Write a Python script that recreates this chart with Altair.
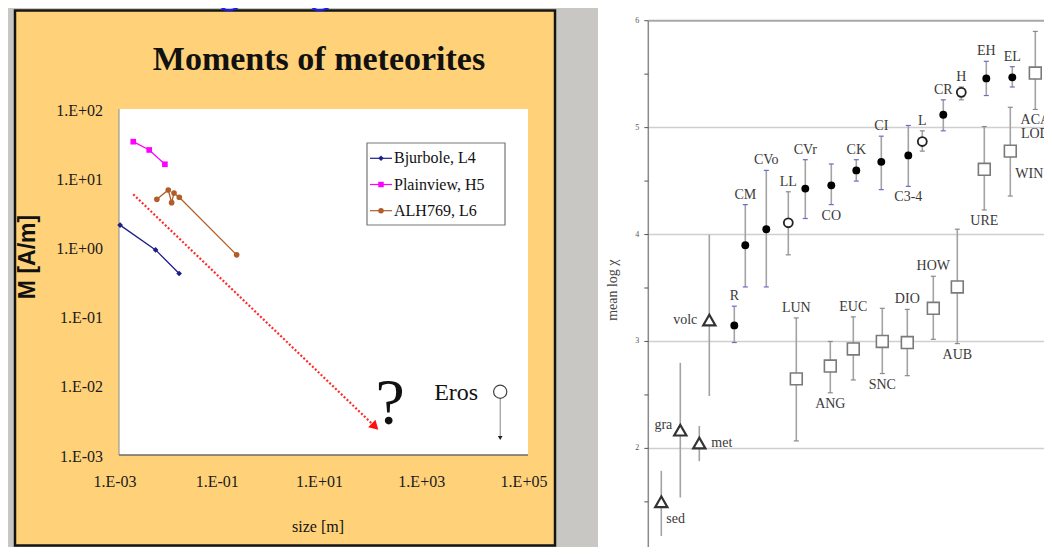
import altair as alt
import pandas as pd

# ------------------------------------------------------------------
# Left panel: "Moments of meteorites"  (M [A/m] versus size [m])
# ------------------------------------------------------------------
series_names = ["Bjurbole, L4", "Plainview, H5", "ALH769, L6"]
series_colors = ["#1e1e8c", "#ff00ff", "#b25c28"]
series_shapes = ["diamond", "square", "circle"]

bjurbole_size = [0.00105, 0.0052, 0.015]
bjurbole_moment = [2.1, 0.92, 0.42]
plainview_size = [0.0019, 0.0039, 0.0079]
plainview_moment = [33.7, 25.6, 15.9]
alh769_size = [0.0055, 0.0092, 0.0107, 0.0119, 0.0151, 0.20]
alh769_moment = [4.95, 6.75, 4.43, 6.1, 5.3, 0.78]

trend_size = [0.0019, 102.0]
trend_moment = [5.85, 0.00257]

eros_size = [28600.0]
eros_moment = [0.0082]
eros_limit = [0.00176]

left_x_ticks = [0.001, 0.1, 10.0, 1000.0, 100000.0]
left_x_labels = ["1.E-03", "1.E-01", "1.E+01", "1.E+03", "1.E+05"]
left_y_ticks = [100.0, 10.0, 1.0, 0.1, 0.01, 0.001]
left_y_labels = ["1.E+02", "1.E+01", "1.E+00", "1.E-01", "1.E-02", "1.E-03"]

# ------------------------------------------------------------------
# Right panel: mean log chi of meteorite groups and terrestrial rocks
# ------------------------------------------------------------------
right_groups = ["sed", "gra", "met", "volc", "R", "CM", "CVo", "LL", "LUN", "CVr",
                "ANG", "CO", "EUC", "CK", "CI", "SNC", "DIO", "C3-4", "L", "HOW",
                "CR", "AUB", "H", "URE", "EH", "WIN", "EL", "ACA\nLOD"]
right_x = [1.3, 3.2, 5.1, 6.1, 8.6, 9.7, 11.8, 14.0, 14.8, 15.7,
           18.2, 18.3, 20.5, 20.8, 23.3, 23.4, 25.9, 26.0, 27.4, 28.5,
           29.5, 30.9, 31.3, 33.6, 33.8, 36.2, 36.4, 38.7]
right_mean = [1.50, 2.17, 2.05, 3.20, 3.15, 3.90, 4.05, 4.11, 2.65, 4.43,
              2.77, 4.46, 2.93, 4.60, 4.68, 3.00, 2.99, 4.74, 4.87, 3.31,
              5.12, 3.51, 5.33, 4.61, 5.46, 4.78, 5.47, 5.51]
right_low = [1.18, 1.54, 1.88, 2.49, 2.99, 3.51, 3.51, 3.81, 2.07, 4.15,
             2.52, 4.28, 2.64, 4.50, 4.42, 2.70, 2.68, 4.45, 4.78, 3.02,
             4.97, 2.98, 5.26, 4.23, 5.30, 4.36, 5.38, 5.17]
right_high = [1.79, 2.80, 2.21, 4.00, 3.33, 4.28, 4.60, 4.40, 3.22, 4.70,
              3.00, 4.66, 3.23, 4.70, 4.92, 3.31, 3.30, 5.02, 4.97, 3.61,
              5.26, 4.05, 5.38, 5.01, 5.62, 5.19, 5.57, 5.90]
right_kind = ["terrestrial", "terrestrial", "terrestrial", "terrestrial",
              "chondrite", "chondrite", "chondrite", "ordinary", "achondrite", "chondrite",
              "achondrite", "chondrite", "achondrite", "chondrite", "chondrite",
              "achondrite", "achondrite", "chondrite", "ordinary", "achondrite",
              "chondrite", "achondrite", "ordinary", "achondrite", "chondrite",
              "achondrite", "chondrite", "achondrite"]
right_label_side = ["rb", "lt", "r", "l", "t", "t", "t", "t", "t", "t",
                    "b", "b", "t", "t", "t", "b", "t", "b", "t", "t",
                    "t", "b", "t", "b", "t", "rb", "t", "b"]
right_y_ticks = [1, 1.5, 2, 2.5, 3, 3.5, 4, 4.5, 5, 5.5, 6]
right_y_label_values = [1, 2, 3, 4, 5, 6]
right_y_labels = ["1", "2", "3", "4", "5", "6"]
right_y_title = "mean log χ"
right_grid = [2, 3, 4, 5]
right_frame = [6]

# ------------------------------------------------------------------
SERIF = "Liberation Serif"
one = pd.DataFrame({"k": [0]})

rows = []
for name, sizes, moms in zip(series_names,
                             [bjurbole_size, plainview_size, alh769_size],
                             [bjurbole_moment, plainview_moment, alh769_moment]):
    for i, (s, m) in enumerate(zip(sizes, moms)):
        rows.append({"series": name, "size": s, "m": m, "step": i})
series_df = pd.DataFrame(rows)
trend_df = pd.DataFrame({"size": trend_size, "m": trend_moment})
arrow_df = trend_df.tail(1)
eros_df = pd.DataFrame({"size": eros_size, "m": eros_moment, "limit": eros_limit})
xt_df = pd.DataFrame({"v": left_x_ticks, "label": left_x_labels})
yt_df = pd.DataFrame({"v": left_y_ticks, "label": left_y_labels})
legend_df = pd.DataFrame({"series": series_names, "row": list(range(len(series_names)))})

right_df = pd.DataFrame({"group": right_groups, "x": right_x, "mean": right_mean,
                         "low": right_low, "high": right_high, "kind": right_kind,
                         "side": right_label_side})
grid_df = pd.DataFrame({"g": right_grid})
frame_df = pd.DataFrame({"g": right_frame})
rtick_df = pd.DataFrame({"t": right_y_ticks})
rlab_df = pd.DataFrame({"t": right_y_label_values, "label": right_y_labels})


def lxs():
    return alt.Scale(type="log", domain=[1e-3, 1e5], range=[111, 520], nice=False)


def lys():
    return alt.Scale(type="log", domain=[1e-3, 1e2], range=[447, 101], nice=False)


def rxs():
    return alt.Scale(domain=[0, 40], range=[640.3, 1040.3], nice=False, zero=False)


def rys():
    return alt.Scale(domain=[1, 6], range=[547.3, 12.7], nice=False, zero=False)


color_scale = alt.Scale(domain=series_names, range=series_colors)
shape_scale = alt.Scale(domain=series_names, range=series_shapes)

# ---------------- decorative panels ----------------
orange_box = alt.Chart(one).mark_rect(fill="#ffd27a", stroke="#151515", strokeWidth=2.5).encode(
    x=alt.value(7), x2=alt.value(547), y=alt.value(2.5), y2=alt.value(537.5))
right_panel = alt.Chart(one).mark_rect(fill="white").encode(
    x=alt.value(590), x2=alt.value(1036), y=alt.value(0), y2=alt.value(539))
slide_text = alt.Chart(one).mark_text(
    text="attenuating magnetic field.", font=SERIF, fontSize=46, color="#1a1aff",
    align="left", baseline="alphabetic").encode(x=alt.value(29), y=alt.value(-7))
title = alt.Chart(one).mark_text(
    text="Moments of meteorites", font=SERIF, fontSize=34, fontWeight="bold",
    color="#111", align="center", baseline="alphabetic").encode(x=alt.value(311), y=alt.value(62))
x_title = alt.Chart(one).mark_text(
    text="size [m]", font=SERIF, fontSize=16, color="#111", align="center",
    baseline="middle").encode(x=alt.value(310), y=alt.value(519))
y_title = alt.Chart(one).mark_text(
    text="M [A/m]", font="Liberation Sans", fontSize=23, fontWeight="bold", color="#111",
    angle=270, align="center", baseline="middle").encode(x=alt.value(19.5), y=alt.value(249))

# ---------------- left chart ----------------
plot_bg = alt.Chart(one).mark_rect(fill="white").encode(
    x=alt.XDatum(1e-3, type="quantitative", scale=lxs(), axis=None), x2=alt.X2Datum(1e5),
    y=alt.YDatum(1e-3, type="quantitative", scale=lys(), axis=None), y2=alt.Y2Datum(1e2))
left_edge = alt.Chart(one).mark_rule(color="#8a8a8a", strokeWidth=1).encode(
    x=alt.XDatum(1e-3, type="quantitative", scale=lxs(), axis=None),
    y=alt.YDatum(1e-3, type="quantitative", scale=lys(), axis=None), y2=alt.Y2Datum(1e2))
bottom_edge = alt.Chart(one).mark_rule(color="#6a6a6a", strokeWidth=1.5).encode(
    x=alt.XDatum(1e-3, type="quantitative", scale=lxs(), axis=None), x2=alt.X2Datum(1e5),
    y=alt.YDatum(1e-3, type="quantitative", scale=lys(), axis=None))

base_series = alt.Chart(series_df).encode(
    x=alt.X("size:Q", scale=lxs(), axis=None),
    y=alt.Y("m:Q", scale=lys(), axis=None),
    color=alt.Color("series:N", scale=color_scale, legend=None),
    order=alt.Order("step:Q"))
series_lines = base_series.mark_line(strokeWidth=1.3)
series_points = base_series.mark_point(filled=True, size=32, opacity=1).encode(
    shape=alt.Shape("series:N", scale=shape_scale, legend=None))

trend_line = alt.Chart(trend_df).mark_line(color="#ff2a2a", strokeWidth=2.2, strokeDash=[2, 2]).encode(
    x=alt.X("size:Q", scale=lxs(), axis=None), y=alt.Y("m:Q", scale=lys(), axis=None))
trend_head = alt.Chart(arrow_df).mark_point(
    shape="triangle-right", angle=44, filled=True, color="#ff1010", size=110, opacity=1).encode(
    x=alt.X("size:Q", scale=lxs(), axis=None), y=alt.Y("m:Q", scale=lys(), axis=None))
question = alt.Chart(arrow_df).mark_text(
    text="?", font=SERIF, fontSize=66, color="#111", align="center", baseline="alphabetic",
    dx=15, dy=-3).encode(
    x=alt.X("size:Q", scale=lxs(), axis=None), y=alt.Y("m:Q", scale=lys(), axis=None))

eros_rule = alt.Chart(eros_df).mark_rule(color="#666", strokeWidth=0.8).encode(
    x=alt.X("size:Q", scale=lxs(), axis=None), y=alt.Y("m:Q", scale=lys(), axis=None),
    y2="limit:Q")
eros_arrow = alt.Chart(eros_df).mark_point(
    shape="triangle-down", filled=True, color="#222", size=22, opacity=1).encode(
    x=alt.X("size:Q", scale=lxs(), axis=None), y=alt.Y("limit:Q", scale=lys(), axis=None))
eros_circle = alt.Chart(eros_df).mark_point(
    shape="circle", size=175, fill="white", stroke="#444", strokeWidth=1.2, opacity=1).encode(
    x=alt.X("size:Q", scale=lxs(), axis=None), y=alt.Y("m:Q", scale=lys(), axis=None))
eros_text = alt.Chart(eros_df).mark_text(
    text="Eros", font=SERIF, fontSize=24, color="#111", align="right", baseline="alphabetic",
    dx=-22, dy=8).encode(
    x=alt.X("size:Q", scale=lxs(), axis=None), y=alt.Y("m:Q", scale=lys(), axis=None))

x_tick_text = alt.Chart(xt_df).mark_text(
    font=SERIF, fontSize=16, color="#1a1a1a", align="center", baseline="middle", dx=-4).encode(
    x=alt.X("v:Q", scale=lxs(), axis=None), y=alt.value(473.7), text="label:N")
y_tick_text = alt.Chart(yt_df).mark_text(
    font=SERIF, fontSize=16, color="#1a1a1a", align="right", baseline="middle", dy=1.5).encode(
    y=alt.Y("v:Q", scale=lys(), axis=None), x=alt.value(95), text="label:N")

left_chart = alt.layer(plot_bg, left_edge, bottom_edge, series_lines, series_points,
                       trend_line, trend_head, question, eros_rule, eros_circle,
                       eros_arrow, eros_text, x_tick_text, y_tick_text)

# ---------------- legend ----------------
legy = alt.Scale(domain=[0, 2], range=[150.3, 202.7])
legend_box = alt.Chart(one).mark_rect(fill="white", stroke="#777", strokeWidth=1.2).encode(
    x=alt.value(359), x2=alt.value(497), y=alt.value(135), y2=alt.value(217))
legend_line = alt.Chart(legend_df).mark_rule(strokeWidth=1.2).encode(
    x=alt.value(362), x2=alt.value(384), y=alt.Y("row:Q", scale=legy, axis=None),
    color=alt.Color("series:N", scale=color_scale, legend=None))
legend_pt = alt.Chart(legend_df).mark_point(filled=True, size=30, opacity=1).encode(
    x=alt.value(373), y=alt.Y("row:Q", scale=legy, axis=None),
    color=alt.Color("series:N", scale=color_scale, legend=None),
    shape=alt.Shape("series:N", scale=shape_scale, legend=None))
legend_txt = alt.Chart(legend_df).mark_text(
    font=SERIF, fontSize=16, color="#111", align="left", baseline="middle").encode(
    x=alt.value(386), y=alt.Y("row:Q", scale=legy, axis=None), text="series:N")
legend = alt.layer(legend_box, legend_line, legend_pt, legend_txt)

# ---------------- right chart ----------------
rx0 = alt.XDatum(0, type="quantitative", scale=rxs(), axis=None)
grid = alt.Chart(grid_df).mark_rule(color="#cfcfcf", strokeWidth=1.5).encode(
    x=rx0, x2=alt.X2Datum(40), y=alt.Y("g:Q", scale=rys(), axis=None))
frame = alt.Chart(frame_df).mark_rule(color="#a8a8a8", strokeWidth=2).encode(
    x=rx0, x2=alt.X2Datum(40), y=alt.Y("g:Q", scale=rys(), axis=None))
axis_line = alt.Chart(one).mark_rule(color="#8a8a8a", strokeWidth=1.5).encode(
    x=rx0, y=alt.YDatum(1, type="quantitative", scale=rys(), axis=None), y2=alt.Y2Datum(6))
axis_ticks = alt.Chart(rtick_df).mark_tick(
    orient="horizontal", size=4, thickness=1, color="#555", xOffset=-2, opacity=1).encode(
    x=rx0, y=alt.Y("t:Q", scale=rys(), axis=None))
axis_labels = alt.Chart(rlab_df).mark_text(
    font=SERIF, fontSize=8, color="#555", align="right", baseline="middle", dx=-9).encode(
    x=rx0, y=alt.Y("t:Q", scale=rys(), axis=None), text="label:N")
axis_title = alt.Chart(one).mark_text(
    text=right_y_title, font=SERIF, fontSize=14, color="#444", angle=270,
    align="center", baseline="middle").encode(
    x=alt.value(605), y=alt.YDatum(3.48, type="quantitative", scale=rys(), axis=None))

rbase = alt.Chart(right_df)
rx = alt.X("x:Q", scale=rxs(), axis=None)
err = rbase.mark_rule(color="#a3a3a3", strokeWidth=1.6).encode(
    x=rx, y=alt.Y("low:Q", scale=rys(), axis=None), y2="high:Q")
caps_blue = rbase.transform_filter("datum.kind == 'chondrite'").transform_fold(
    ["low", "high"], as_=["end", "yv"]).mark_tick(
    orient="horizontal", size=5, thickness=1.2, color="#6b6bd0", opacity=1).encode(
    x=rx, y=alt.Y("yv:Q", scale=rys(), axis=None))
caps_gray = rbase.transform_filter(
    "datum.kind == 'achondrite' || datum.kind == 'ordinary'").transform_fold(
    ["low", "high"], as_=["end", "yv"]).mark_tick(
    orient="horizontal", size=5, thickness=1.2, color="#8a8a8a", opacity=1).encode(
    x=rx, y=alt.Y("yv:Q", scale=rys(), axis=None))
ry_mean = alt.Y("mean:Q", scale=rys(), axis=None)
pts_filled = rbase.transform_filter("datum.kind == 'chondrite'").mark_point(
    shape="circle", filled=True, color="#000", size=62, opacity=1).encode(x=rx, y=ry_mean)
pts_open = rbase.transform_filter("datum.kind == 'ordinary'").mark_point(
    shape="circle", fill="white", stroke="#222", strokeWidth=1.8, size=80, opacity=1).encode(
    x=rx, y=ry_mean)
pts_square = rbase.transform_filter("datum.kind == 'achondrite'").mark_point(
    shape="square", fill="white", stroke="#7a7a7a", strokeWidth=1.6, size=140, opacity=1).encode(
    x=rx, y=ry_mean)
pts_tri = rbase.transform_filter("datum.kind == 'terrestrial'").mark_point(
    shape="triangle-up", fill="white", stroke="#333", strokeWidth=2.2, size=150, opacity=1).encode(
    x=rx, y=ry_mean)

lab = rbase.transform_calculate(
    ly="datum.side == 't' ? datum.high : datum.side == 'b' ? datum.low : "
       "datum.side == 'rb' ? (datum.mean + datum.low) / 2 : datum.mean")
lab_enc = dict(x=rx, y=alt.Y("ly:Q", scale=rys(), axis=None), text="group:N")
lab_style = dict(font=SERIF, fontSize=14, color="#3a3a3a", lineBreak="\n", lineHeight=14)
lab_t = lab.transform_filter("datum.side == 't'").mark_text(
    align="center", baseline="middle", dy=-10, **lab_style).encode(**lab_enc)
lab_b = lab.transform_filter("datum.side == 'b'").mark_text(
    align="center", baseline="top", dy=4, **lab_style).encode(**lab_enc)
lab_l = lab.transform_filter("datum.side == 'l'").mark_text(
    align="right", baseline="middle", dx=-12, **lab_style).encode(**lab_enc)
lab_lt = lab.transform_filter("datum.side == 'lt'").mark_text(
    align="right", baseline="middle", dx=-8, dy=-5, **lab_style).encode(**lab_enc)
lab_r = lab.transform_filter("datum.side == 'r'").mark_text(
    align="left", baseline="middle", dx=12, **lab_style).encode(**lab_enc)
lab_rb = lab.transform_filter("datum.side == 'rb'").mark_text(
    align="left", baseline="middle", dx=5, **lab_style).encode(**lab_enc)

right_chart = alt.layer(grid, frame, axis_line, axis_ticks, axis_labels, axis_title,
                        err, caps_blue, caps_gray, pts_filled, pts_open,
                        pts_square, pts_tri, lab_t, lab_b, lab_l, lab_lt, lab_r, lab_rb)

chart = alt.layer(
    orange_box, right_panel, slide_text, title, x_title, y_title,
    left_chart, legend, right_chart
).resolve_scale(x="independent", y="independent").properties(
    width=1036, height=539, padding=0,
    autosize=alt.AutoSizeParams(type="none"),
    background="#c9c7c3"
).configure_view(stroke=None)

chart.save("out.html", embed_options={"renderer": "svg", "actions": False})
